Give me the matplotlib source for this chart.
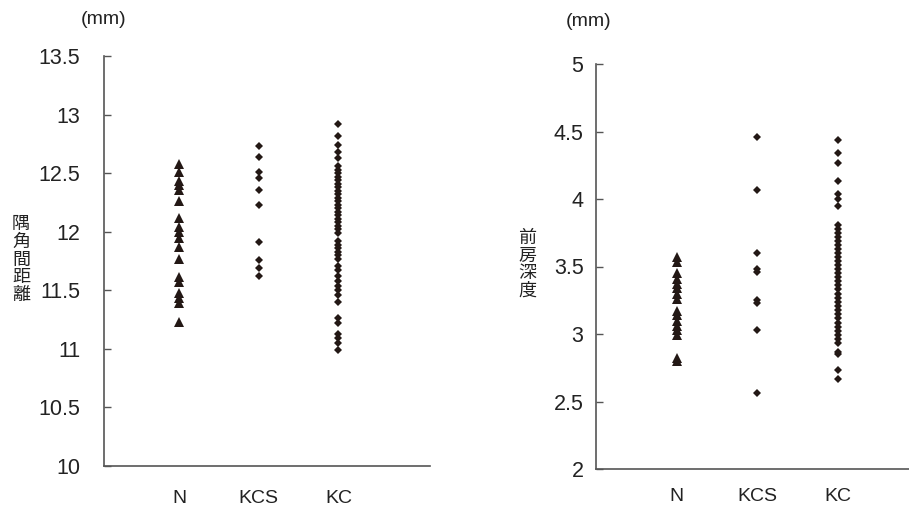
import matplotlib.pyplot as plt

plt.rcParams['font.family'] = ['Liberation Sans', 'Noto Sans CJK JP', 'DejaVu Sans']

# categories
groups = ['N', 'KCS', 'KC']

# 隅角間距離 (mm)
left_n = [12.58, 12.51, 12.43, 12.40, 12.36, 12.26, 12.12, 12.04, 12.00, 11.95,
          11.87, 11.77, 11.61, 11.57, 11.48, 11.43, 11.39, 11.23]
left_kcs = [12.73, 12.64, 12.51, 12.46, 12.36, 12.23, 11.91, 11.76, 11.69, 11.62]
left_kc = [12.92, 12.82, 12.74, 12.68, 12.63, 12.56, 12.53, 12.50, 12.47, 12.44,
           12.41, 12.38, 12.35, 12.32, 12.29, 12.26, 12.23, 12.20, 12.17, 12.14,
           12.11, 12.08, 12.05, 12.02, 11.99, 11.92, 11.89, 11.86, 11.83, 11.80,
           11.77, 11.71, 11.67, 11.62, 11.58, 11.54, 11.50, 11.46, 11.40, 11.26,
           11.22, 11.13, 11.09, 11.05, 10.99]

# 前房深度 (mm)
right_n = [3.57, 3.53, 3.45, 3.41, 3.37, 3.34, 3.30, 3.26, 3.17, 3.14,
           3.10, 3.06, 3.03, 2.99, 2.82, 2.80]
right_kcs = [4.46, 4.07, 3.60, 3.48, 3.46, 3.25, 3.23, 3.03, 2.56]
right_kc = [4.44, 4.34, 4.27, 4.13, 4.04, 4.00, 3.95, 3.81, 3.78, 3.75,
            3.72, 3.69, 3.66, 3.63, 3.60, 3.57, 3.54, 3.51, 3.48, 3.45,
            3.42, 3.39, 3.36, 3.33, 3.30, 3.27, 3.24, 3.21, 3.18, 3.15,
            3.12, 3.08, 3.05, 3.02, 2.99, 2.96, 2.93, 2.87, 2.85, 2.73, 2.67]

left_ticks = [10, 10.5, 11, 11.5, 12, 12.5, 13, 13.5]
right_ticks = [2, 2.5, 3, 3.5, 4, 4.5, 5]

W, H = 909, 508
ink = '#231815'
axcol = '#555555'
txt = '#222222'

fig = plt.figure(figsize=(W / 100, H / 100), dpi=100)


def panel(rect, series, ticks, ylabel, xlim, ypad, xpad, lab_pos, mm_pos):
    """one strip chart: N / KCS / KC columns"""
    ax = fig.add_axes(rect)
    markers = ['^', 'D', 'D']
    sizes = [6.5, 4.5, 4.5]
    for i, vals in enumerate(series):
        ax.plot([i + 1] * len(vals), vals, linestyle='none', marker=markers[i],
                markersize=sizes[i], color=ink, markeredgewidth=0)
    ax.set_ylim(ticks[0], ticks[-1])
    ax.set_xlim(*xlim)
    ax.set_yticks(ticks)
    ax.set_yticklabels(['%g' % t for t in ticks], fontsize=15.5, color=txt)
    ax.set_xticks([1, 2, 3])
    ax.set_xticklabels(groups, fontsize=14, color=txt)
    ax.tick_params(axis='x', length=0, pad=xpad)
    ax.tick_params(axis='y', direction='in', length=5, width=1, color=axcol, pad=ypad)
    for s in ['top', 'right']:
        ax.spines[s].set_visible(False)
    for s in ['left', 'bottom']:
        ax.spines[s].set_color(axcol)
        ax.spines[s].set_linewidth(1.2)
    fig.text(lab_pos[0] / W, 1 - lab_pos[1] / H, '\n'.join(ylabel), fontsize=13,
             ha='center', va='center', linespacing=1.05, color=txt)
    fig.text(mm_pos[0] / W, 1 - mm_pos[1] / H, '(mm)', fontsize=14,
             ha='center', va='center', color=txt)
    return ax


panel([104 / W, 1 - 466 / H, (430 - 104) / W, (466 - 56) / H],
      [left_n, left_kcs, left_kc], left_ticks, '隅角間距離',
      (0.057, 4.15), 17, 17, (21, 260), (104, 20))
panel([596 / W, 1 - 469 / H, (909 - 596) / W, (469 - 64) / H],
      [right_n, right_kcs, right_kc], right_ticks, '前房深度',
      (0.0, 3.88), 9, 14, (527, 265), (589, 21))

fig.savefig('out.png', dpi=100)
